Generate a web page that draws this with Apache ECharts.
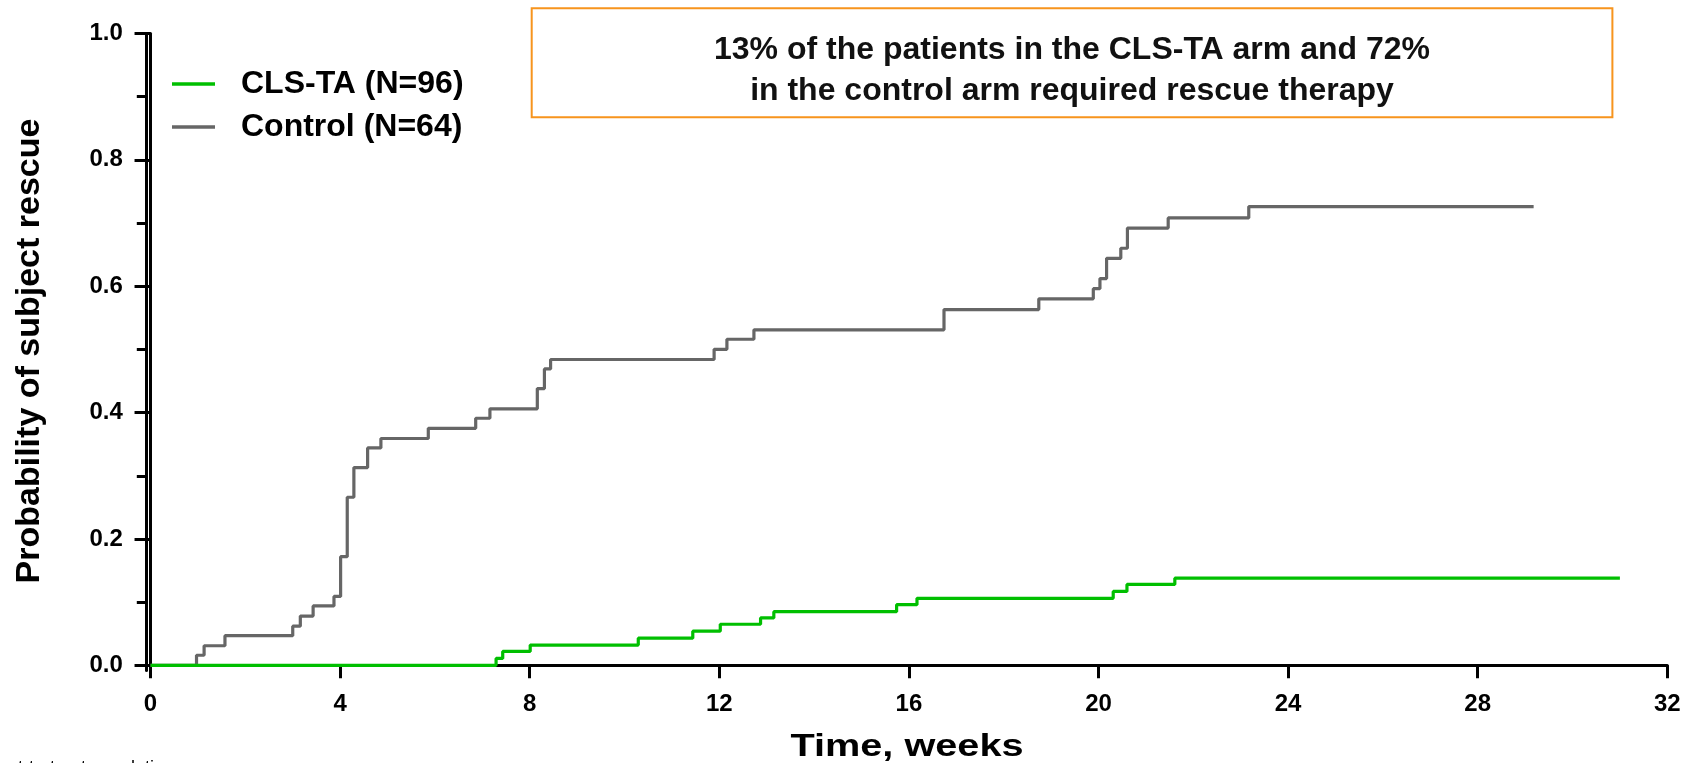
<!DOCTYPE html>
<html>
<head>
<meta charset="utf-8">
<script src="https://cdn.jsdelivr.net/npm/echarts@6/dist/echarts.min.js"></script>
<style>
    html, body { margin: 0; padding: 0; background: #fff; }
    #Root { width: 1690px; height: 763px; }
</style>
</head>
<body>
<div id="Root"></div>
<script>
const seriesNames = ['CLS-TA (N=96)', 'Control (N=64)']

// CLS-TA arm: week of each step and cumulative probability after it
const clsWeeks = [0, 7.29, 7.43, 8.01, 10.29, 11.44, 12.02, 12.87, 13.15, 15.74, 16.17, 20.31, 20.6, 21.61, 31.0]
const clsRescue = [0, 0.011, 0.022, 0.032, 0.043, 0.054, 0.065, 0.075, 0.085, 0.096, 0.106, 0.117, 0.128, 0.138, 0.138]

// Control arm
const ctrlWeeks = [0, 0.97, 1.13, 1.57, 3.0, 3.16, 3.43, 3.87, 4.01, 4.15, 4.29, 4.58, 4.86, 5.86, 6.86, 7.16, 8.16, 8.31, 8.44,
    11.89, 12.16, 12.73, 16.74, 18.74, 19.89, 20.03, 20.17, 20.47, 20.61, 21.47, 23.17, 29.18]
const ctrlRescue = [0, 0.016, 0.031, 0.047, 0.062, 0.078, 0.094, 0.109, 0.172, 0.266, 0.313, 0.344, 0.359, 0.375, 0.391, 0.406, 0.438, 0.469, 0.484,
    0.5, 0.516, 0.531, 0.563, 0.580, 0.596, 0.612, 0.644, 0.660, 0.692, 0.708, 0.726, 0.726]

const xTicks = [0, 4, 8, 12, 16, 20, 24, 28, 32]
const yTicks = [0, 0.2, 0.4, 0.6, 0.8, 1.0]
const yMinorTicks = [0.1, 0.3, 0.5, 0.7, 0.9]

const noteText = '13% of the patients in the CLS-TA arm and 72%\nin the control arm required rescue therapy'
const yTitle = 'Probability of subject rescue'
const xTitle = 'Time, weeks'
const footText = 'Intent-to-treat population'

const FONT = '"Liberation Sans", Arial, Helvetica, sans-serif'

function toSteps(weeks, values) {
    return weeks.map((w, i) => [w, values[i]])
}

const axisStyle = { color: '#000', width: 3 }

let chart = echarts.init(document.getElementById('Root'), null, { renderer: 'canvas' })

chart.setOption({
    animation: false,
    backgroundColor: '#fff',
    grid: {
        left: 145.8,
        right: 22.7,
        top: 33.4,
        bottom: 92.6,
        containLabel: false,
        outerBoundsMode: 'none'
    },
    legend: {
        orient: 'vertical',
        left: 167,
        top: 63,
        itemWidth: 43,
        itemHeight: 3.5,
        itemGap: 11,
        icon: 'rect',
        data: seriesNames,
        textStyle: {
            fontFamily: FONT,
            fontSize: 32,
            lineHeight: 32,
            fontWeight: 'bold',
            color: '#000',
            padding: [0, 0, 0, 21]
        }
    },
    xAxis: {
        type: 'value',
        min: -0.1,
        max: 32,
        axisLine: { show: true, lineStyle: axisStyle },
        axisTick: { show: true, customValues: xTicks, length: 13, lineStyle: axisStyle },
        axisLabel: {
            customValues: xTicks,
            margin: 22,
            fontFamily: FONT,
            fontSize: 24,
            fontWeight: 'bold',
            color: '#000'
        },
        splitLine: { show: false }
    },
    yAxis: [
        {
            type: 'value',
            position: 'left',
            min: -0.008,
            max: 1,
            axisLine: { show: true, lineStyle: axisStyle },
            axisTick: { show: true, customValues: yTicks, length: 16, lineStyle: axisStyle },
            axisLabel: {
                customValues: yTicks,
                margin: 23,
                formatter: v => v.toFixed(1),
                fontFamily: FONT,
                fontSize: 24,
                fontWeight: 'bold',
                color: '#000'
            },
            splitLine: { show: false }
        },
        {
            // minor ticks only
            type: 'value',
            position: 'left',
            offset: 0,
            min: -0.008,
            max: 1,
            axisLine: { show: true, lineStyle: axisStyle },
            axisTick: { show: true, customValues: yMinorTicks, length: 9, lineStyle: axisStyle },
            axisLabel: { show: false },
            splitLine: { show: false }
        }
    ],
    series: [
        {
            name: seriesNames[0],
            type: 'line',
            step: 'end',
            symbol: 'none',
            color: '#00bf00',
            lineStyle: { width: 3.2, color: '#00bf00' },
            data: toSteps(clsWeeks, clsRescue),
            z: 3
        },
        {
            name: seriesNames[1],
            type: 'line',
            step: 'end',
            symbol: 'none',
            color: '#666666',
            lineStyle: { width: 3.2, color: '#666666' },
            data: toSteps(ctrlWeeks, ctrlRescue),
            z: 2
        }
    ],
    graphic: [
        {
            type: 'rect',
            shape: { x: 531.7, y: 8.3, width: 1080.7, height: 109 },
            style: { fill: null, stroke: '#F7941D', lineWidth: 2 }
        },
        {
            type: 'text',
            x: 1072,
            y: 71,
            style: {
                text: noteText,
                align: 'center',
                verticalAlign: 'middle',
                lineHeight: 41,
                fontFamily: FONT,
                fontSize: 32,
                fontWeight: 'bold',
                fill: '#111'
            }
        },
        {
            type: 'text',
            x: 30,
            y: 351,
            rotation: Math.PI / 2,
            style: {
                text: yTitle,
                align: 'center',
                verticalAlign: 'middle',
                fontFamily: FONT,
                fontSize: 34,
                fontWeight: 'bold',
                fill: '#000'
            }
        },
        {
            type: 'text',
            x: 907,
            y: 747,
            scaleX: 1.28,
            style: {
                text: xTitle,
                align: 'center',
                verticalAlign: 'middle',
                fontFamily: FONT,
                fontSize: 31,
                fontWeight: 'bold',
                fill: '#000'
            }
        },
        {
            type: 'text',
            x: -22,
            y: 759,
            style: {
                text: footText,
                align: 'left',
                verticalAlign: 'top',
                fontFamily: FONT,
                fontSize: 18,
                fill: '#000'
            }
        }
    ]
})
</script>
</body>
</html>
